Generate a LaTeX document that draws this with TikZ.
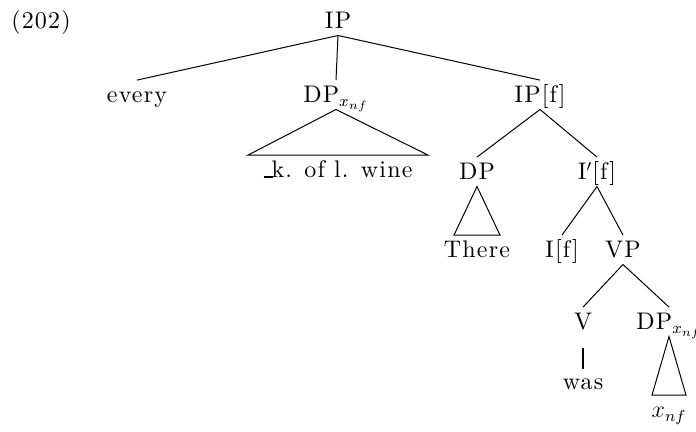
\documentclass[tikz,border=0pt,12pt]{standalone}
\usepackage{amsmath}
\usepackage{amssymb}
\usepackage{fontspec}
\setmainfont{lmroman10-regular.otf}[LetterSpace=5,BoldFont=lmroman10-bold.otf,ItalicFont=lmroman10-italic.otf]
\usepackage{tikz}

\begin{document}
\begin{tikzpicture}[x=0.5pt,y=-0.5pt,line width=0.5pt,
  every node/.style={anchor=base,inner xsep=1pt,inner ysep=3pt,text height=8.2pt,text depth=0pt}]
\useasboundingbox (0,0) rectangle (696,432);

\node (num) at (41,29) {(202)};
\node (ip) at (338,29) {IP};
\node (every) at (137,103) {every};
\node (dpa) at (336,103) {DP$_{x_{nf}}$};
\node (ipf) at (540,103) {IP[f]};
\node (wine) at (338,178) {\rule{4.5pt}{1pt}\kern-0.5pt k. of l. wine};
\node (dpb) at (477,180) {DP};
\node (ibar) at (597,180) {I$'$[f]};
\node (there) at (477,258) {There};
\node (if) at (562,258) {I[f]};
\node (vp) at (623,258) {VP};
\node (v) at (583,330) {V};
\node (dpc) at (669,330) {DP$_{x_{nf}}$};
\node (was) at (583,390) {was};
\node (xnf) at (669,418) {$x_{nf}$};

\draw (ip.south)--(every.north);
\draw (ip.south)--(dpa.north);
\draw (ip.south)--(ipf.north);
\draw (ipf.south)--(dpb.north);
\draw (ipf.south)--(ibar.north);
\draw (ibar.south)--(if.north);
\draw (ibar.south)--(vp.north);
\draw (vp.south)--(v.north);
\draw (vp.south)--(dpc.north);
\draw[line width=1pt,shorten <=6pt,shorten >=-1pt] (v.south)--(was.north);

% roofs
\draw (dpa.south)--([xshift=-45pt]wine.north)--([xshift=45pt]wine.north)--cycle;
\draw (dpb.south)--([xshift=-11.5pt]there.north)--([xshift=11.5pt]there.north)--cycle;
\draw (dpc.south)--([xshift=-8.5pt]xnf.north)--([xshift=8.5pt]xnf.north)--cycle;
\end{tikzpicture}
\end{document}
